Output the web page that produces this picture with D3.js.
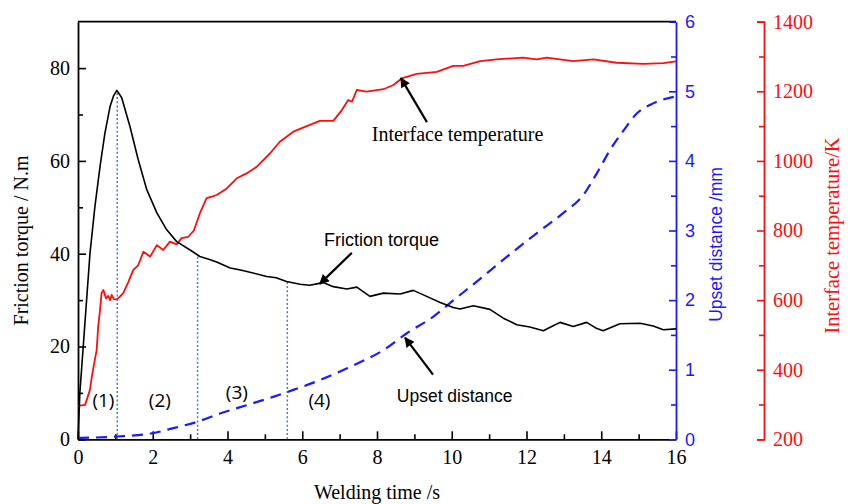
<!DOCTYPE html>
<html><head><meta charset="utf-8">
<script src="https://cdn.jsdelivr.net/npm/d3@7"></script>
<style>body{margin:0;background:#fff}svg{display:block}</style>
</head><body><svg id="c" width="850" height="504"></svg>
<script>
// ---- data ----
const torqueT = [0,0.05,0.14,0.23,0.32,0.45,0.59,0.72,0.86,0.95,1.04,1.17,1.39,1.61,1.84,2.11,2.37,2.64,3.0,3.26,3.5,3.71,4.07,4.35,4.6,5.05,5.3,5.58,5.94,6.2,6.39,6.56,6.83,7.19,7.46,7.81,8.17,8.62,8.97,9.33,9.69,10.04,10.22,10.58,11.02,11.38,11.74,12.09,12.45,12.7,12.9,13.25,13.61,13.85,14.05,14.5,15.04,15.39,15.66,16];
const torqueV = [0,10,20,30,40,50,58.8,66,71.8,74,75.2,73.6,67.4,60.3,53.8,48.8,45.2,42.6,40.8,39.4,38.8,38.2,36.9,36.5,36.0,35.1,34.8,34.0,33.4,33.2,33.5,33.8,32.9,32.4,32.8,30.8,31.5,31.3,32.1,30.8,29.5,28.4,28.1,28.8,28.0,26.1,24.7,24.2,23.4,24.4,25.2,24.3,25.2,24.0,23.4,24.9,25.0,24.4,23.6,23.8];

const tempT = [0,0.19,0.32,0.37,0.45,0.5,0.54,0.59,0.63,0.68,0.75,0.81,0.86,0.9,0.96,1.04,1.1,1.21,1.34,1.48,1.61,1.75,1.93,2.11,2.28,2.46,2.64,2.77,2.95,3.1,3.26,3.44,3.6,3.71,3.98,4.25,4.51,4.78,5.14,5.4,5.76,6.12,6.47,6.83,7.06,7.23,7.33,7.46,7.72,8.17,8.44,8.66,9.06,9.6,10.04,10.31,10.76,11.2,11.91,12.27,12.54,13.25,13.79,14.41,15.13,15.66,16];
const tempV = [296,299,342,380,428,457,524,572,620,629,605,612,600,615,603,602,608,620,650,687,700,739,725,758,744,768,760,778,782,800,849,893,898,902,921,950,964,983,1022,1055,1084,1100,1115,1115,1146,1175,1170,1204,1199,1206,1218,1237,1250,1256,1273,1273,1287,1292,1297,1292,1297,1287,1292,1282,1279,1281,1286];

const upsetT = [0,1.04,2.03,2.55,3.18,3.8,4.51,5.22,5.76,6.47,7.2,7.6,8.17,8.79,9.5,10.05,10.84,11.47,12.27,12.98,13.52,13.88,14.24,14.6,14.95,15.4,15.94];
const upsetV = [0.02,0.04,0.09,0.16,0.25,0.37,0.49,0.61,0.71,0.85,1.02,1.12,1.28,1.52,1.76,2.0,2.34,2.62,2.96,3.25,3.51,3.82,4.16,4.44,4.68,4.83,4.92];

const phaseT = [1.05, 3.2, 5.6];
const phaseTop = [75.2, 39.5, 34.0];
const phaseLabels = ["(1)","(2)","(3)","(4)"];
const phaseLabelT = [0.68, 2.19, 4.25, 6.46];
const phaseLabelV = [8.5, 8.5, 10.3, 8.5];

const xTicks = [0,2,4,6,8,10,12,14,16];
const xMinor = [1,3,5,7,9,11,13,15];
const leftTicks = [0,20,40,60,80];
const leftMinor = [10,30,50,70];
const blueTicks = [0,1,2,3,4,5,6];
const blueMinor = [0.5,1.5,2.5,3.5,4.5,5.5];
const redTicks = [200,400,600,800,1000,1200,1400];
const redMinor = [300,500,700,900,1100,1300];

// ---- layout ----
const L = 78, R = 676, T = 21.7, B = 439.3, RX = 764;
const SERIF = "'Liberation Serif','Times New Roman',serif";
const SANS = "'Liberation Sans',Arial,sans-serif";
const BLUE = "#1a1aff", RED = "#ff0d0d";
const fmt = d3.format("d");

const svg = d3.select("#c");
const x = d3.scaleLinear([0,16],[L,R]);
const yL = d3.scaleLinear([0,90],[B,T]);
const yB = d3.scaleLinear([0,6],[B,T]);
const yR = d3.scaleLinear([200,1400],[B,T]);

function styleAxis(g, color, font, size){
  g.selectAll("path.domain").attr("stroke", color).attr("stroke-width", 1.8);
  g.selectAll(".tick line").attr("stroke", color).attr("stroke-width", 1.6);
  g.selectAll(".tick text").attr("fill", color).style("font-family", font).style("font-size", size+"px");
}

// top frame
svg.append("line").attr("x1",L).attr("x2",R).attr("y1",T).attr("y2",T).attr("stroke","#000").attr("stroke-width",1.8);

// x axis
const gx = svg.append("g").attr("transform",`translate(0,${B})`)
  .call(d3.axisBottom(x).tickValues(xTicks).tickSize(-8).tickSizeOuter(0).tickPadding(11).tickFormat(fmt));
styleAxis(gx,"#000",SERIF,20);
const gxm = svg.append("g").attr("transform",`translate(0,${B})`)
  .call(d3.axisBottom(x).tickValues(xMinor).tickSize(-5).tickFormat(""));
gxm.select("path.domain").remove();
styleAxis(gxm,"#000",SERIF,20);

// left axis
const gl = svg.append("g").attr("transform",`translate(${L},0)`)
  .call(d3.axisLeft(yL).tickValues(leftTicks).tickSize(-8).tickSizeOuter(0).tickPadding(8).tickFormat(fmt));
styleAxis(gl,"#000",SERIF,20);
const glm = svg.append("g").attr("transform",`translate(${L},0)`)
  .call(d3.axisLeft(yL).tickValues(leftMinor).tickSize(-5).tickFormat(""));
glm.select("path.domain").remove();
styleAxis(glm,"#000",SERIF,20);

// blue right axis
const gb = svg.append("g").attr("transform",`translate(${R},0)`)
  .call(d3.axisRight(yB).tickValues(blueTicks).tickSize(-7).tickSizeOuter(0).tickPadding(9).tickFormat(fmt));
styleAxis(gb,BLUE,SANS,18);
const gbm = svg.append("g").attr("transform",`translate(${R},0)`)
  .call(d3.axisRight(yB).tickValues(blueMinor).tickSize(-5).tickFormat(""));
gbm.select("path.domain").remove();
styleAxis(gbm,BLUE,SANS,18);

// red offset axis
const gr = svg.append("g").attr("transform",`translate(${RX},0)`)
  .call(d3.axisRight(yR).tickValues(redTicks).tickSize(-7).tickSizeOuter(-7).tickPadding(9).tickFormat(fmt));
styleAxis(gr,RED,SERIF,20);
const grm = svg.append("g").attr("transform",`translate(${RX},0)`)
  .call(d3.axisRight(yR).tickValues(redMinor).tickSize(-5).tickFormat(""));
grm.select("path.domain").remove();
styleAxis(grm,RED,SERIF,20);

// axis titles
svg.append("text").attr("x",(L+R)/2).attr("y",499).attr("text-anchor","middle")
  .style("font-family",SERIF).style("font-size","20px").attr("fill","#000").text("Welding time /s");
svg.append("text").attr("transform",`translate(28,${(T+B)/2+10}) rotate(-90)`).attr("text-anchor","middle")
  .style("font-family",SERIF).style("font-size","20px").attr("fill","#000").text("Friction torque / N.m");
svg.append("text").attr("transform",`translate(722,${(T+B)/2+14}) rotate(-90)`).attr("text-anchor","middle")
  .style("font-family",SANS).style("font-size","17.5px").attr("fill",BLUE).text("Upset distance /mm");
svg.append("text").attr("transform",`translate(839,${(T+B)/2+5}) rotate(-90)`).attr("text-anchor","middle")
  .style("font-family",SERIF).style("font-size","20.5px").attr("fill",RED).text("Interface temperature/K");

// phase dotted lines
phaseT.forEach((t,i)=>{
  svg.append("line").attr("x1",x(t)).attr("x2",x(t)).attr("y1",yL(0)).attr("y2",yL(phaseTop[i]))
    .attr("stroke","#4a7cc4").attr("stroke-width",1.5).attr("stroke-dasharray","2,2.2");
});

// lines
const torque = torqueT.map((t,i)=>[t,torqueV[i]]);
const temp = tempT.map((t,i)=>[t,tempV[i]]);
const upset = upsetT.map((t,i)=>[t,upsetV[i]]);

svg.append("path").datum(temp).attr("fill","none").attr("stroke",RED).attr("stroke-width",1.8)
  .attr("stroke-linejoin","round")
  .attr("d", d3.line().x(d=>x(d[0])).y(d=>yR(d[1])));
svg.append("path").datum(upset).attr("fill","none").attr("stroke",BLUE).attr("stroke-width",2.2)
  .attr("stroke-dasharray","11,7")
  .attr("d", d3.line().curve(d3.curveMonotoneX).x(d=>x(d[0])).y(d=>yB(d[1])));
svg.append("path").datum(torque).attr("fill","none").attr("stroke","#000").attr("stroke-width",1.6)
  .attr("stroke-linejoin","round")
  .attr("d", d3.line().x(d=>x(d[0])).y(d=>yL(d[1])));

// phase labels
phaseLabels.forEach((s,i)=>{
  svg.append("text").attr("x",x(phaseLabelT[i])).attr("y",yL(phaseLabelV[i])).attr("text-anchor","middle")
    .attr("dominant-baseline","central").style("font-family","'Open Sans',sans-serif").style("font-size","19px")
    .attr("fill","#000").text(s);
});

// annotations with arrows
svg.append("defs").append("marker").attr("id","ah").attr("viewBox","0 0 10 10").attr("refX",9).attr("refY",5)
  .attr("markerWidth",14).attr("markerHeight",10).attr("orient","auto").attr("markerUnits","userSpaceOnUse")
  .append("path").attr("d","M0,0L10,5L0,10Z").attr("fill","#000");

function arrow(tx,ty,dx,dy){
  svg.append("line").attr("x1",tx+dx).attr("y1",ty+dy).attr("x2",tx).attr("y2",ty)
    .attr("stroke","#000").attr("stroke-width",2.2).attr("marker-end","url(#ah)");
}
arrow(x(8.64), yR(1238), 26, 44);
arrow(x(6.47), yL(33.5), 32, -31);
arrow(x(8.75), yB(1.46), 28, 37);

svg.append("text").attr("x",x(7.86)).attr("y",yR(1058)).style("font-family",SERIF).style("font-size","20px")
  .attr("fill","#000").text("Interface temperature");
svg.append("text").attr("x",x(6.58)).attr("y",yL(41.7)).style("font-family",SANS).style("font-size","18px")
  .attr("fill","#000").text("Friction torque");
svg.append("text").attr("x",x(8.53)).attr("y",yB(0.53)).style("font-family",SANS).style("font-size","17.5px")
  .attr("fill","#000").text("Upset distance");
</script></body></html>
